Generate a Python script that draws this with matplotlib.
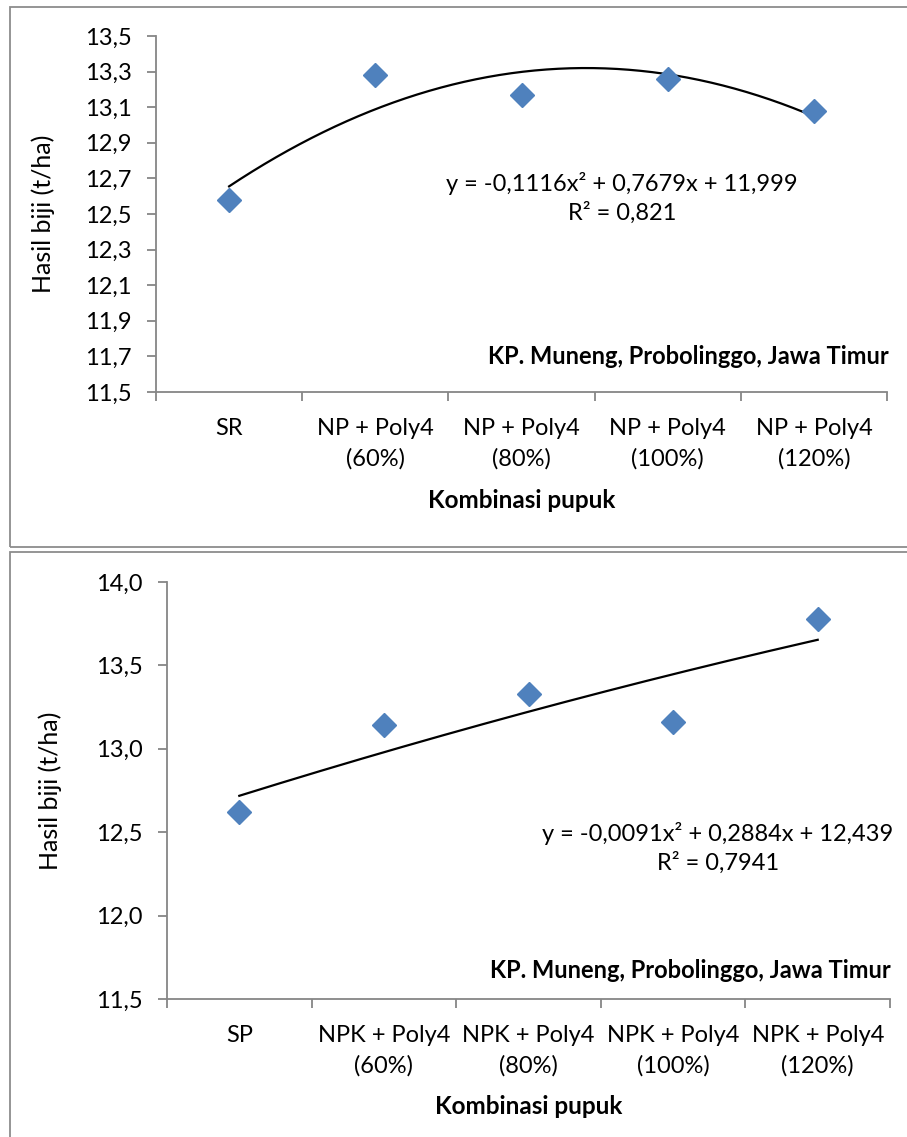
import numpy as np
import matplotlib
matplotlib.use("Agg")
import matplotlib.pyplot as plt
from matplotlib.patches import Rectangle

plt.rcParams['font.family'] = ['Lato', 'DejaVu Sans']

# data
pos = [1, 2, 3, 4, 5]
cats_top = ['SR', 'NP + Poly4\n(60%)', 'NP + Poly4\n(80%)', 'NP + Poly4\n(100%)', 'NP + Poly4\n(120%)']
yield_top = [12.58, 13.28, 13.17, 13.26, 13.08]
coef_top = [-0.1116, 0.7679, 11.999]
eq_top = 'y = -0,1116x² + 0,7679x + 11,999\nR² = 0,821'
yticks_top = [11.5, 11.7, 11.9, 12.1, 12.3, 12.5, 12.7, 12.9, 13.1, 13.3, 13.5]

cats_bot = ['SP', 'NPK + Poly4\n(60%)', 'NPK + Poly4\n(80%)', 'NPK + Poly4\n(100%)', 'NPK + Poly4\n(120%)']
yield_bot = [12.62, 13.14, 13.33, 13.16, 13.78]
coef_bot = [-0.0091, 0.2884, 12.439]
eq_bot = 'y = -0,0091x² + 0,2884x + 12,439\nR² = 0,7941'
yticks_bot = [11.5, 12.0, 12.5, 13.0, 13.5, 14.0]

site = 'KP. Muneng, Probolinggo, Jawa Timur'
W, H = 907, 1137
fig = plt.figure(figsize=(W / 100, H / 100), dpi=100)

# panel frames
for top, bot in [(7, 547), (552, 1140)]:
    fig.patches.append(Rectangle((10 / W, 1 - bot / H), 1.0, (bot - top) / H,
                                 transform=fig.transFigure, fill=False,
                                 edgecolor='#8c8c8c', lw=1.3))

gray = '#868686'


def panel(rect, cats, vals, coef, eq, yticks, eq_xy, site_xy, ylab_x, xlab_y):
    ax = fig.add_axes(rect)
    xs = np.linspace(1, 5, 200)
    ax.plot(xs, np.polyval(coef, xs), color='black', lw=1.6, zorder=2)
    ax.plot(pos, vals, ls='none', marker='D', ms=12, color='#4F81BD', zorder=3)
    ax.set_xlim(0.5, 5.5)
    ax.set_ylim(yticks[0], yticks[-1])
    ax.set_yticks(yticks)
    ax.set_yticklabels(['{:.1f}'.format(v).replace('.', ',') for v in yticks], fontsize=17)
    ax.set_xticks([0.5, 1.5, 2.5, 3.5, 4.5, 5.5])
    ax.set_xticklabels([])
    ax.set_xticks(pos, minor=True)
    ax.set_xticklabels(cats, minor=True, fontsize=17, linespacing=1.5)
    ax.tick_params(axis='x', which='minor', length=0, pad=19)
    ax.tick_params(axis='y', which='major', pad=11)
    ax.tick_params(axis='both', which='major', length=6.5, width=1.3, color=gray, direction='out')
    for s in ['top', 'right']:
        ax.spines[s].set_visible(False)
    for s in ['left', 'bottom']:
        ax.spines[s].set_color(gray)
        ax.spines[s].set_linewidth(1.3)
    ax.text(eq_xy[0], eq_xy[1], eq, transform=fig.transFigure, ha='center', va='center',
            fontsize=17, linespacing=1.35)
    ax.text(site_xy[0], site_xy[1], site, transform=fig.transFigure, ha='left', va='center',
            fontsize=17, fontweight='bold')
    fig.text(ylab_x, rect[1] + rect[3] / 2, 'Hasil biji (t/ha)', rotation=90,
             ha='center', va='center', fontsize=18)
    fig.text(rect[0] + rect[2] / 2, xlab_y, 'Kombinasi pupuk', ha='center', va='center',
             fontsize=17.5, fontweight='bold')
    return ax


panel([156 / W, 1 - 392 / H, (887 - 156) / W, (392 - 36) / H], cats_top, yield_top, coef_top,
      eq_top, yticks_top, (622 / W, 1 - 198 / H), (488 / W, 1 - 357 / H),
      43 / W, 1 - 500 / H)
panel([167 / W, 1 - 999 / H, (890 - 167) / W, (999 - 582) / H], cats_bot, yield_bot, coef_bot,
      eq_bot, yticks_bot, (718 / W, 1 - 848 / H), (490 / W, 1 - 970 / H),
      50 / W, 1 - 1107 / H)

fig.savefig('out.png', dpi=100)
